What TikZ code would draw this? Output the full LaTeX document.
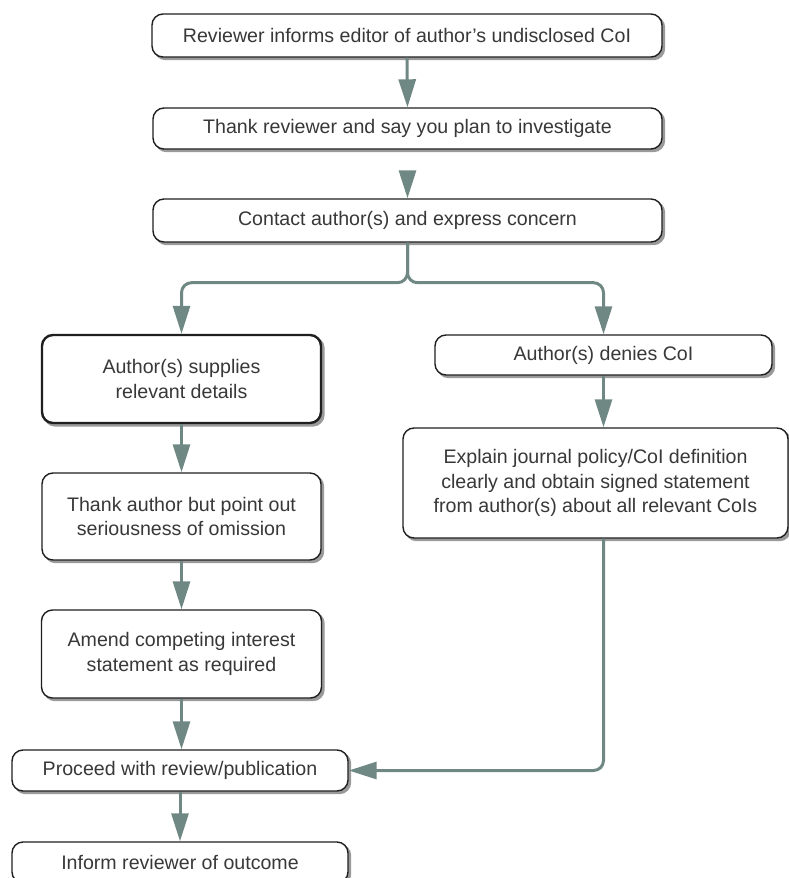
\documentclass[tikz,border=0pt]{standalone}
\usepackage{fontspec}
\setmainfont{Liberation Sans}
\usetikzlibrary{arrows.meta}
\definecolor{arr}{HTML}{6F8884}
\definecolor{txt}{HTML}{383838}
\definecolor{shad}{HTML}{9A9A9A}
\begin{document}
\begin{tikzpicture}[x=1pt,y=-1pt,
  box/.style={draw=black!88, line width=1.4pt, rounded corners=11pt, fill=white,
    align=center, text=txt, font=\fontsize{19.6}{24.5}\selectfont, inner sep=0pt,
    preaction={fill=shad, draw=shad, transform canvas={shift={(2.5pt,-2.5pt)}}}},
  thickbox/.style={box, line width=2.4pt},
  conn/.style={draw=arr, line width=3pt, rounded corners=10pt,
    -{Triangle[length=28pt,width=17pt]}}]
\useasboundingbox (0,0) rectangle (789,878);
\clip (0,0) rectangle (789,878);
\node[box, minimum width=510pt, minimum height=43pt] (b1) at (407,35.5)
  {Reviewer informs editor of author’s undisclosed CoI};
\node[box, minimum width=509pt, minimum height=41pt] (b2) at (407.5,128.5)
  {Thank reviewer and say you plan to investigate};
\node[box, minimum width=509pt, minimum height=43pt] (b3) at (407.5,220.5)
  {Contact author(s) and express concern};
\node[thickbox, minimum width=279pt, minimum height=88pt] (b4) at (181.5,379)
  {Author(s) supplies\\relevant details};
\node[box, minimum width=337pt, minimum height=40pt] (b5) at (603.5,355)
  {Author(s) denies CoI};
\node[box, minimum width=385pt, minimum height=110pt] (b6) at (595.5,483)
  {Explain journal policy/CoI definition\\clearly and obtain signed statement\\from author(s) about all relevant CoIs};
\node[box, minimum width=279pt, minimum height=87pt] (b7) at (181.5,516.5)
  {Thank author but point out\\seriousness of omission};
\node[box, minimum width=280pt, minimum height=88pt] (b8) at (181.5,654)
  {Amend competing interest\\statement as required};
\node[box, minimum width=336pt, minimum height=41pt] (b9) at (180,770.5)
  {Proceed with review/publication};
\node[box, minimum width=336pt, minimum height=41pt] (b10) at (180,862.5)
  {Inform reviewer of outcome};

\draw[conn] (b1.south) -- (b2.north);
\draw[conn, shorten <=22pt] (b2.south) -- (b3.north);
\draw[conn] (b3.south) -- ++(0,40) -| (b4.north);
\draw[conn] (b3.south) -- ++(0,40) -| (b5.north);
\draw[conn] (b5.south) -- (b5.south |- b6.north);
\draw[conn] (b4.south) -- (b7.north);
\draw[conn] (b7.south) -- (b8.north);
\draw[conn] (b8.south) -- (b8.south |- b9.north);
\draw[conn] (b6.south -| b5.south) |- (b9.east);
\draw[conn] (b9.south) -- (b10.north);
\end{tikzpicture}
\end{document}
